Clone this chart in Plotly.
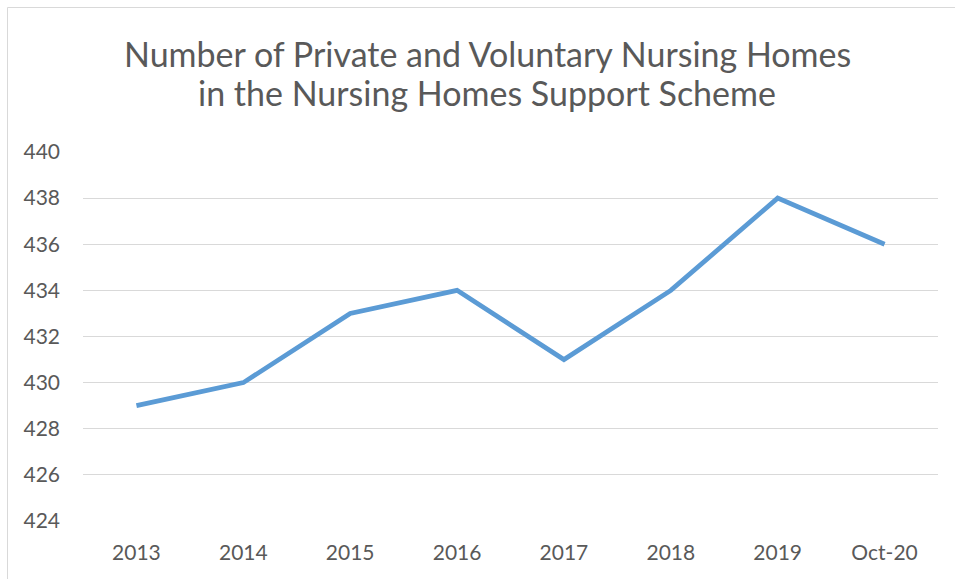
import plotly.graph_objects as go

categories = ["2013", "2014", "2015", "2016", "2017", "2018", "2019", "Oct-20"]
values = [429, 430, 433, 434, 431, 434, 438, 436]
y_ticks = [424, 426, 428, 430, 432, 434, 436, 438, 440]
title_lines = ["Number of Private and Voluntary Nursing Homes",
               "in the Nursing Homes Support Scheme"]

W, H = 955, 579
ml, mr, mt, mb = 83, 17, 152, 58
pw, ph = W - ml - mr, H - mt - mb

fig = go.Figure()
fig.add_trace(go.Scatter(
    x=categories, y=values, mode="lines",
    line=dict(color="#5B9BD5", width=4.75),
    hoverinfo="x+y", showlegend=False,
))

font_family = "Lato, Open Sans, sans-serif"
fig.update_layout(
    width=W, height=H,
    margin=dict(l=ml, r=mr, t=mt, b=mb),
    paper_bgcolor="white", plot_bgcolor="white",
    font=dict(family=font_family, color="#595959"),
    xaxis=dict(type="category", range=[-0.5, 7.5], showgrid=False, showline=False,
               zeroline=False, ticks="", tickfont=dict(size=21, color="#595959"),
               ticklabelstandoff=17),
    yaxis=dict(range=[424, 440], tickvals=y_ticks, showgrid=True, gridcolor="#D9D9D9",
               gridwidth=1, zeroline=False, showline=False, ticks="",
               tickfont=dict(size=21, color="#595959"), ticklabelstandoff=22),
)

def px_x(p):
    return (p - ml) / pw

def px_y(p):
    return 1 - (p - mt) / ph

for line_text, cy in zip(title_lines, [53, 92]):
    fig.add_annotation(
        text=line_text, xref="paper", yref="paper",
        x=px_x(487), y=px_y(cy), xanchor="center", yanchor="middle",
        showarrow=False, align="center",
        font=dict(size=34, color="#595959", family=font_family),
    )

fig.add_shape(type="rect", xref="paper", yref="paper",
              x0=px_x(7.5), y0=px_y(620), x1=px_x(1000), y1=px_y(7.5),
              line=dict(color="#D9D9D9", width=1), fillcolor="rgba(0,0,0,0)", layer="below")

fig.write_html("out.html", config={"displayModeBar": False},
               post_script="document.body.style.margin='0';")
